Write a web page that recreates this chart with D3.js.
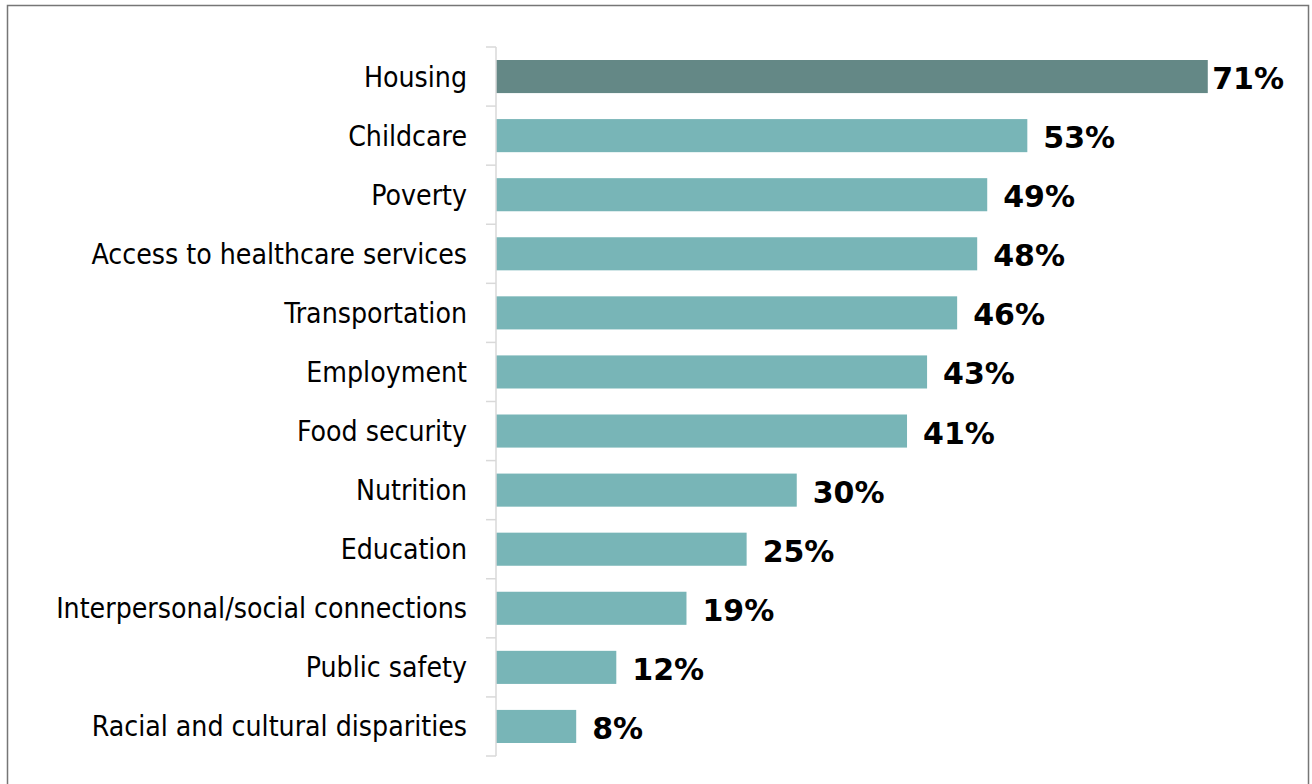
<!DOCTYPE html>
<html>
<head>
<meta charset="utf-8">
<script src="https://cdn.jsdelivr.net/npm/d3@7"></script>
<style>
  html, body { margin: 0; padding: 0; background: #fff; }
  svg { display: block; }
  .cat { font-family: "DejaVu Sans Condensed", "DejaVu Sans", sans-serif; font-stretch: condensed; font-size: 28.2px; fill: #000; }
  .val { font-family: "DejaVu Sans", sans-serif; font-weight: bold; font-size: 30px; fill: #000; }
</style>
</head>
<body>
<svg id="chart" width="1312" height="784"></svg>
<script>
// Share of respondents naming each issue (%)
const categories = [
  "Housing", "Childcare", "Poverty", "Access to healthcare services",
  "Transportation", "Employment", "Food security", "Nutrition",
  "Education", "Interpersonal/social connections", "Public safety",
  "Racial and cultural disparities"
];
const values = [71, 53, 49, 48, 46, 43, 41, 30, 25, 19, 12, 8];
const highlighted = ["Housing"];

const svg = d3.select("#chart");

// outer frame
svg.append("rect")
  .attr("x", 7.5).attr("y", 5.5)
  .attr("width", 1301).attr("height", 820)
  .attr("fill", "none")
  .attr("stroke", "#767676")
  .attr("stroke-width", 1.5);

const plot = { left: 496, right: 1298, top: 47, bottom: 756 };

const x = d3.scaleLinear().domain([0, 80]).range([plot.left, plot.right]);
const y = d3.scaleBand().domain(categories).range([plot.top, plot.bottom]).paddingInner(0.44).paddingOuter(0.22);

const data = categories.map((c, i) => ({ cat: c, v: values[i] }));

// bars
svg.append("g").selectAll("rect").data(data).join("rect")
  .attr("x", x(0))
  .attr("y", d => y(d.cat))
  .attr("width", d => x(d.v) - x(0))
  .attr("height", y.bandwidth())
  .attr("fill", d => highlighted.includes(d.cat) ? "#648886" : "#78b5b7");

// category axis: line with ticks between categories
const step = y.step();
const bandTop = c => y(c) - (step - y.bandwidth()) / 2;
const axis = svg.append("g").attr("stroke", "#d9d9d9").attr("stroke-width", 1.5);
axis.append("line")
  .attr("x1", x(0)).attr("x2", x(0))
  .attr("y1", plot.top).attr("y2", plot.bottom);
const tickYs = categories.map(bandTop).concat([bandTop(categories[categories.length - 1]) + step]);
axis.selectAll("line.tick").data(tickYs).join("line")
  .attr("class", "tick")
  .attr("x1", x(0) - 10).attr("x2", x(0))
  .attr("y1", d => d).attr("y2", d => d);

// category labels
svg.append("g").selectAll("text").data(data).join("text")
  .attr("class", "cat")
  .attr("x", x(0) - 29)
  .attr("y", d => y(d.cat) + y.bandwidth() / 2 + 10)
  .attr("text-anchor", "end")
  .text(d => d.cat);

// value labels, kept inside the frame
const labelLimit = 1284;
svg.append("g").selectAll("text").data(data).join("text")
  .attr("class", "val")
  .attr("y", d => y(d.cat) + y.bandwidth() / 2 + 12.5)
  .text(d => d.v + "%")
  .attr("x", function (d) {
    const w = this.getComputedTextLength();
    return Math.min(x(d.v) + 16, labelLimit - w);
  });
</script>
</body>
</html>
